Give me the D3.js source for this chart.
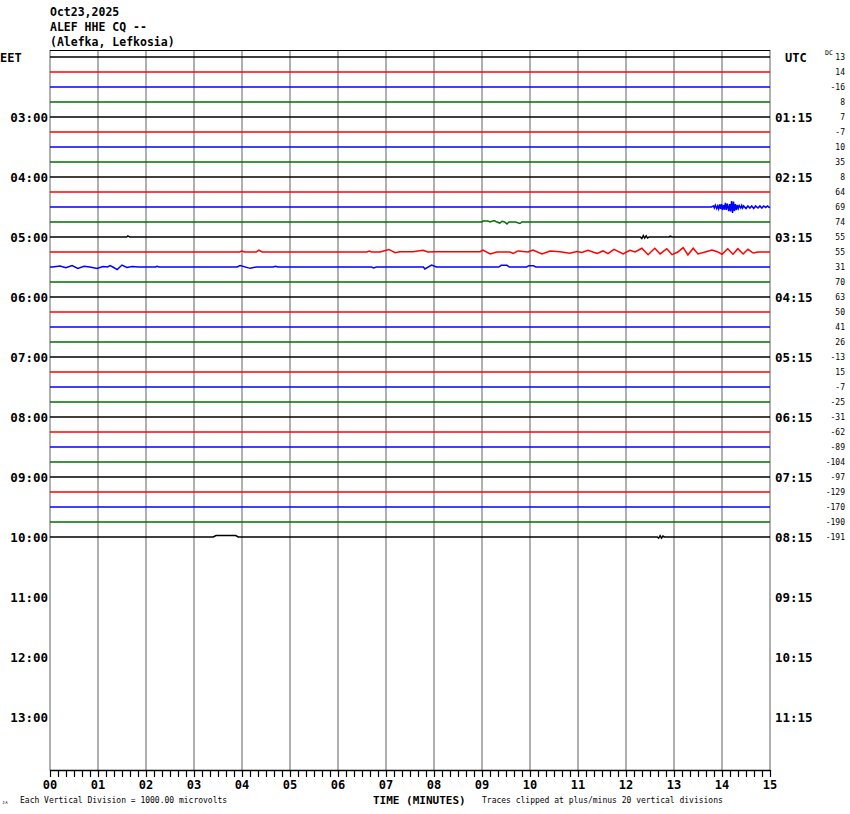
<!DOCTYPE html>
<html><head><meta charset="utf-8">
<script src="https://cdn.jsdelivr.net/npm/d3@7"></script>
<style>body{margin:0;background:#fff}svg{display:block}</style>
</head><body>
<script>
// ---------- data ----------
const headerLines = ["Oct23,2025", "ALEF HHE CQ --", "(Alefka, Lefkosia)"];
const eetLabels = ["03:00","04:00","05:00","06:00","07:00","08:00","09:00","10:00","11:00","12:00","13:00"];
const utcLabels = ["01:15","02:15","03:15","04:15","05:15","06:15","07:15","08:15","09:15","10:15","11:15"];
const dcOffsets = [13,14,-16,8,7,-7,10,35,8,64,69,74,55,55,31,70,63,50,41,26,-13,15,-7,-25,-31,-62,-89,-104,-97,-129,-170,-190,-191];
const traceColors = ["#000000","#ff0000","#0000ff","#007000"];
const minuteLabels = ["00","01","02","03","04","05","06","07","08","09","10","11","12","13","14","15"];
// trace deviations: [minute, microvolts]
const trace10 = [[13.78,0],[13.82,70],[13.84,-70],[13.86,130],[13.89,-100],[13.91,70],[13.93,-130],[13.95,170],[13.97,-130],[13.99,200],[14.01,-200],[14.03,130],[14.05,-170],[14.07,270],[14.09,-200],[14.11,230],[14.14,-270],[14.16,200],[14.18,-300],[14.20,400],[14.22,-400],[14.24,370],[14.26,-270],[14.28,200],[14.30,-200],[14.32,130],[14.34,-100],[14.36,100],[14.39,-70],[14.41,100],[14.43,-70],[14.45,70],[14.5,-100],[14.54,70],[14.58,-70],[14.62,70],[14.66,-100],[14.70,70],[14.75,-70],[14.79,70],[14.83,-70],[14.87,70],[14.91,-30],[14.95,70],[14.98,-30]];
const trace11 = [[9.0,0],[9.02,70],[9.12,60],[9.17,0],[9.25,90],[9.30,20],[9.37,-70],[9.42,50],[9.47,0],[9.52,-130],[9.56,0],[9.7,0],[9.79,-100],[9.83,0]];
const trace12 = [[1.6,0],[1.62,70],[1.66,0],[12.3,0],[12.33,-100],[12.36,100],[12.39,-70],[12.42,70],[12.45,-70],[12.48,0],[12.9,0],[12.92,60],[12.96,0]];
const trace13 = [[3.95,0],[4.0,60],[4.05,0],[4.3,0],[4.35,130],[4.42,0],[6.6,0],[6.65,60],[6.7,0],[6.875,0],[7.06,170],[7.19,-50],[7.29,20],[7.56,20],[7.77,110],[7.875,0],[8.02,20],[8.96,20],[9.02,130],[9.17,-130],[9.31,0],[9.58,0],[9.65,-100],[9.75,70],[9.96,0],[10.06,130],[10.25,-130],[10.42,70],[10.625,20],[10.83,-90],[10.98,30],[11.08,-30],[11.21,110],[11.31,0],[11.40,-90],[11.52,70],[11.625,-110],[11.75,170],[11.94,-130],[12.08,110],[12.19,0],[12.33,250],[12.46,-180],[12.6,250],[12.71,-130],[12.85,220],[12.96,-180],[13.08,0],[13.19,290],[13.29,-200],[13.4,250],[13.5,-130],[13.65,0],[13.79,130],[13.9,20],[14.0,-150],[14.12,220],[14.23,-150],[14.33,220],[14.44,-130],[14.54,180],[14.65,-70],[14.75,0]];
const trace14 = [[0.05,0],[0.21,70],[0.33,-50],[0.46,90],[0.58,-90],[0.71,50],[0.83,0],[0.98,-100],[1.1,30],[1.2,0],[1.25,90],[1.31,0],[1.4,-170],[1.5,130],[1.6,-30],[1.71,40],[1.85,0],[2.2,0],[2.23,50],[2.27,0],[3.9,0],[3.96,90],[4.17,-90],[4.3,0],[4.65,0],[4.7,50],[4.75,0],[6.7,0],[6.74,-70],[6.8,0],[7.78,0],[7.81,-130],[7.95,130],[8.05,0],[9.35,0],[9.4,110],[9.52,110],[9.57,0],[9.93,0],[9.98,90],[10.07,90],[10.12,0]];
const trace32 = [[3.4,0],[3.46,100],[3.87,100],[3.92,0],[12.65,0],[12.68,-70],[12.71,90],[12.74,-70],[12.77,60],[12.8,0]];
const traceEvents = {10: trace10, 11: trace11, 12: trace12, 13: trace13, 14: trace14, 32: trace32};

// ---------- drawing ----------
const W = 850, H = 814;
const svg = d3.select("body").append("svg").attr("width", W).attr("height", H);
const x = d3.scaleLinear().domain([0, 15]).range([50, 770]);
const row = d3.scaleLinear().domain([0, 44]).range([57, 717]);
const amp = d3.scaleLinear().domain([0, 1000]).range([0, -15]);
const plotTop = 50, plotBottom = 770;
const mono = "'DejaVu Sans Mono', 'Liberation Mono', monospace";

// header
svg.append("g").selectAll("text").data(headerLines).join("text")
  .attr("x", 50).attr("y", (d, i) => 16 + i * 15)
  .attr("font-family", mono).attr("font-weight", "bold").attr("font-size", 11.5)
  .text(d => d);

// vertical minute grid
svg.append("g").selectAll("line").data(d3.range(0, 16)).join("line")
  .attr("x1", d => x(d)).attr("x2", d => x(d))
  .attr("y1", plotTop).attr("y2", plotBottom)
  .attr("stroke", "#858585").attr("stroke-width", 1.3);

// top border
svg.append("line").attr("x1", x(0)).attr("x2", x(15)).attr("y1", plotTop + 0.5).attr("y2", plotTop + 0.5)
  .attr("stroke", "#000").attr("stroke-width", 1);

// traces
const line = d3.line().curve(d3.curveLinear);
dcOffsets.forEach((dc, i) => {
  const ev = traceEvents[i] || [];
  const pts = [[0, 0], ...ev, [15, 0]];
  const base = row(i);
  svg.append("path")
    .attr("d", line(pts.map(p => [x(p[0]), base + amp(p[1])])))
    .attr("fill", "none")
    .attr("stroke", traceColors[i % 4])
    .attr("stroke-width", 1.5)
    .attr("stroke-linejoin", "miter");
});

// EET / UTC labels
svg.append("text").attr("x", 0).attr("y", row(0) + 4.5).attr("font-family", mono)
  .attr("font-weight", "bold").attr("font-size", 12).text("EET");
svg.append("text").attr("x", 785).attr("y", row(0) + 4.5).attr("font-family", mono)
  .attr("font-weight", "bold").attr("font-size", 12).text("UTC");
svg.append("g").selectAll("text").data(eetLabels).join("text")
  .attr("x", 48).attr("text-anchor", "end")
  .attr("y", (d, i) => row((i + 1) * 4) + 5)
  .attr("font-family", mono).attr("font-weight", "bold").attr("font-size", 12.5)
  .text(d => d);
svg.append("g").selectAll("text").data(utcLabels).join("text")
  .attr("x", 775)
  .attr("y", (d, i) => row((i + 1) * 4) + 5)
  .attr("font-family", mono).attr("font-weight", "bold").attr("font-size", 12.5)
  .text(d => d);

// DC offsets
svg.append("text").attr("x", 825).attr("y", 55).attr("font-family", mono).attr("font-size", 6.5).text("DC");
svg.append("g").selectAll("text").data(dcOffsets).join("text")
  .attr("x", 845).attr("text-anchor", "end")
  .attr("y", (d, i) => row(i) + 3)
  .attr("font-family", mono).attr("font-size", 8)
  .text(d => d);

// bottom axis
const axis = d3.axisBottom(x).tickValues(d3.range(0, 15.001, 1 / 6)).tickSize(7).tickFormat("");
const ax = svg.append("g").attr("transform", `translate(0,${plotBottom})`).call(axis);
ax.select(".domain").attr("stroke", "#000").attr("stroke-width", 1.3).attr("d", `M${x(0)},0.5H${x(15)}`);
ax.selectAll(".tick line").attr("stroke", "#000").attr("stroke-width", 1.2);
svg.append("g").selectAll("text").data(minuteLabels).join("text")
  .attr("x", (d, i) => x(i)).attr("y", 789).attr("text-anchor", "middle")
  .attr("font-family", mono).attr("font-weight", "bold").attr("font-size", 12)
  .text(d => d);

// footer texts
svg.append("text").attr("x", 20).attr("y", 803).attr("font-family", mono).attr("font-size", 8)
  .text("Each Vertical Division = 1000.00 microvolts");
svg.append("text").attr("x", 373).attr("y", 804).attr("font-family", mono).attr("font-weight", "bold").attr("font-size", 11)
  .text("TIME (MINUTES)");
svg.append("text").attr("x", 482).attr("y", 803).attr("font-family", mono).attr("font-size", 8)
  .text("Traces clipped at plus/minus 20 vertical divisions");
svg.append("text").attr("x", 2).attr("y", 804).attr("font-family", mono).attr("font-size", 5).text("ᴊᴀ");
</script>
</body></html>
